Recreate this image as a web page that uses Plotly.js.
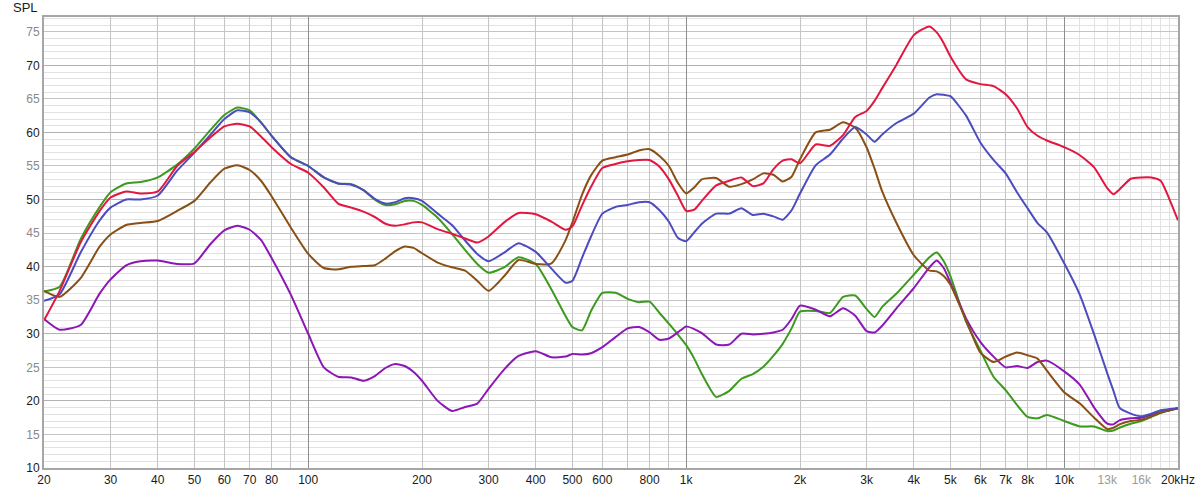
<!DOCTYPE html>
<html>
<head>
<meta charset="utf-8">
<script src="https://cdn.plot.ly/plotly-3.0.1.min.js"></script>
<style>html,body{margin:0;padding:0;background:#fff}#chart{width:1200px;height:492px}</style>
</head>
<body>
<div id="chart"></div>
<script>
// Frequency grid (Hz) at which the curves were read
const freqHz = [20,22,25,28,30,33,36,40,45,50,
  55,60,65,70,75,80,90,100,110,120,
  130,140,150,160,170,180,190,200,220,240,
  260,280,300,330,360,400,440,480,500,530,
  560,600,650,700,750,800,850,900,950,1000,
  1050,1100,1200,1300,1400,1500,1600,1700,1800,1900,
  2000,2200,2400,2600,2800,3000,3150,3300,3600,4000,
  4400,4600,4800,5000,5500,6000,6500,7000,7500,8000,
  8500,9000,10000,11000,12000,13000,13500,14000,15000,16000,
  17000,18000,19000,20000];

const redSPL = [32.0,36.4,43.6,48.2,50.3,51.2,50.9,51.2,55.0,57.1,
  59.2,60.9,61.3,60.9,59.4,57.8,55.3,54.0,51.8,49.4,
  48.8,48.2,47.4,46.4,46.1,46.3,46.6,46.6,45.6,44.9,
  44.2,43.6,44.5,46.6,48.0,47.8,46.7,45.5,46.0,49.1,
  51.9,54.7,55.3,55.7,55.9,55.9,54.9,53.0,50.6,48.3,
  48.5,49.8,52.1,52.8,53.3,52.0,52.4,54.5,55.8,56.0,
  55.4,58.2,58.0,59.6,62.3,63.2,64.7,66.6,70.1,74.5,
  75.8,74.9,73.3,71.3,67.9,67.2,66.9,65.7,63.6,60.8,
  59.5,58.8,57.8,56.6,54.8,51.7,50.8,51.5,53.1,53.3,
  53.3,52.8,50.0,46.9];

const blueSPL = [34.9,35.9,42.1,46.8,48.8,50.0,50.0,50.6,54.3,57.0,
  59.6,62.0,63.3,63.0,61.5,59.5,56.3,55.0,53.3,52.4,
  52.2,51.4,50.1,49.4,49.6,50.2,50.2,49.8,47.9,46.2,
  43.9,41.9,40.8,42.1,43.5,42.2,39.7,37.6,37.9,41.3,
  44.5,47.9,48.9,49.2,49.6,49.6,48.4,46.7,44.3,43.8,
  45.1,46.4,47.9,47.9,48.7,47.7,47.9,47.5,47.0,48.4,
  50.9,55.1,56.7,59.1,60.8,59.7,58.6,59.7,61.4,62.8,
  65.2,65.7,65.6,65.4,62.5,58.5,55.9,53.9,51.1,48.7,
  46.5,45.1,40.5,35.8,29.9,24.1,21.5,19.0,18.1,17.7,
  18.1,18.6,18.8,18.9];

const greenSPL = [36.3,37.0,44.1,48.8,51.1,52.4,52.6,53.3,55.2,57.6,
  60.3,62.6,63.7,63.3,61.5,59.5,56.3,55.0,53.3,52.4,
  52.3,51.4,50.0,49.2,49.3,49.8,49.8,49.2,47.3,44.9,
  42.5,40.4,39.1,39.9,41.4,40.4,36.6,32.6,31.0,30.5,
  33.4,36.1,36.1,35.2,34.7,34.8,33.1,31.5,29.9,28.3,
  26.3,24.0,20.6,21.5,23.3,24.0,25.1,26.7,28.5,30.8,
  33.3,33.4,33.1,35.5,35.7,33.7,32.5,34.0,36.0,38.8,
  41.4,42.1,40.8,38.6,31.8,27.5,23.6,21.6,19.4,17.6,
  17.4,17.9,17.0,16.2,16.2,15.5,15.6,16.0,16.6,17.0,
  17.6,18.2,18.6,18.9];

const brownSPL = [36.4,35.5,38.3,42.9,44.8,46.2,46.5,46.8,48.3,49.8,
  52.5,54.6,55.1,54.4,52.8,50.5,45.8,41.9,39.8,39.6,
  40.0,40.1,40.2,41.2,42.3,43.0,42.8,42.0,40.6,39.9,
  39.4,37.9,36.4,38.6,41.0,40.4,40.5,44.0,46.6,50.7,
  53.6,55.8,56.3,56.7,57.3,57.5,56.5,55.0,52.5,50.9,
  51.8,53.0,53.2,51.9,52.3,53.0,53.9,53.7,52.7,53.4,
  56.0,60.0,60.4,61.5,60.7,57.8,54.6,51.2,46.5,41.7,
  39.4,39.3,38.6,37.3,32.0,27.2,25.8,26.6,27.2,26.8,
  26.3,24.5,21.3,19.6,17.5,15.8,16.0,16.5,17.0,17.2,
  17.7,18.3,18.6,18.9];

const purpleSPL = [32.2,30.6,31.3,35.9,38.1,40.2,40.8,40.9,40.4,40.5,
  43.3,45.4,46.1,45.5,44.0,41.3,35.8,30.0,25.0,23.6,
  23.5,23.0,23.7,24.9,25.5,25.2,24.3,23.0,20.0,18.5,
  19.1,19.6,21.8,24.7,26.7,27.4,26.5,26.6,27.0,26.9,
  27.1,28.0,29.5,30.8,31.0,30.2,29.1,29.3,30.2,31.1,
  30.7,30.1,28.4,28.4,30.0,29.9,30.0,30.2,30.6,32.2,
  34.2,33.6,32.6,33.8,32.7,30.4,30.2,31.2,33.8,36.8,
  39.9,40.9,39.8,37.6,32.3,28.8,26.6,25.0,25.2,24.9,
  25.8,26.0,24.4,22.4,19.0,16.6,16.5,17.1,17.4,17.5,
  17.9,18.3,18.6,18.9];

// Axis ticks and grid levels
const xTickVals = [20,30,40,50,60,70,80,100,200,300,400,500,600,800,1000,2000,3000,4000,5000,6000,7000,8000,10000,13000,16000,20000];
const xTickText = ['20','30','40','50','60','70','80','100','200','300','400','500','600','800','1k','2k','3k','4k','5k','6k','7k','8k','10k','<span style="color:#9a9a9a">13k</span>','<span style="color:#9a9a9a">16k</span>','20kHz'];
const xGridMedium = [30,40,50,60,70,80,90,200,300,400,500,600,700,800,900,2000,3000,4000,5000,6000,7000,8000,9000];
const xGridLight = [11000,12000,13000,14000,15000,16000,17000,18000,19000];
const xGridDark = [100,1000,10000];
const yTickVals = [10,15,20,25,30,35,40,45,50,55,60,65,70,75];
const yTickText = yTickVals.map(v => v % 10 === 0 ? String(v) : '<span style="color:#8a8a8a">' + v + '</span>');
const yGridMinor = [];
for (let v = 11; v <= 77; v++) { if (v % 5 !== 0) yGridMinor.push(v); }
const yGridDark = [10,20,30,40,50,60,70];

const series = [
  {name:'green', y: greenSPL, color:'#3c9a1e'},
  {name:'purple', y: purpleSPL, color:'#8c17b5'},
  {name:'brown', y: brownSPL, color:'#8a4f15'},
  {name:'blue', y: blueSPL, color:'#4c4cbf'},
  {name:'red', y: redSPL, color:'#e2173f'}
];

const xRange = [Math.log10(20), Math.log10(20000)];
const yRange = [10, 77.2];

const traces = [
  {type:'scatter', x:[], y:[], xaxis:'x2', yaxis:'y', showlegend:false, hoverinfo:'skip'},
  {type:'scatter', x:[], y:[], xaxis:'x3', yaxis:'y', showlegend:false, hoverinfo:'skip'},
  {type:'scatter', x:[], y:[], xaxis:'x', yaxis:'y2', showlegend:false, hoverinfo:'skip'}
];
series.forEach(s => traces.push({
  type:'scatter', mode:'lines', name:s.name, x:freqHz, y:s.y,
  line:{color:s.color, width:2, shape:'spline', smoothing:0.55},
  xaxis:'x', yaxis:'y', hoverinfo:'x+y'
}));

const fontFam = 'Liberation Sans, Arial, sans-serif';
const layout = {
  width:1200, height:492,
  margin:{l:44, r:22, t:17, b:24, pad:0},
  paper_bgcolor:'#ffffff', plot_bgcolor:'#ffffff',
  showlegend:false,
  font:{family:fontFam, size:12, color:'#1a1a1a'},
  xaxis:{type:'log', range:xRange, tickmode:'array', tickvals:xTickVals, ticktext:xTickText,
    showgrid:false, zeroline:false, ticks:'', showline:true, mirror:true, linecolor:'#a6a6a6', linewidth:2,
    tickfont:{family:fontFam, size:12, color:'#1a1a1a'}, fixedrange:true},
  xaxis2:{type:'log', range:xRange, overlaying:'x', anchor:'y', side:'bottom',
    tickmode:'array', tickvals:xGridMedium, showticklabels:false, ticks:'',
    showgrid:true, gridcolor:'#c4c4c4', gridwidth:1, zeroline:false, showline:false,
    minor:{tickmode:'array', tickvals:xGridLight, showgrid:true, gridcolor:'#e2e2e2', gridwidth:1, ticks:''}},
  xaxis3:{type:'log', range:xRange, overlaying:'x', anchor:'y', side:'bottom',
    tickmode:'array', tickvals:xGridDark, showticklabels:false, ticks:'',
    showgrid:true, gridcolor:'#8e8e8e', gridwidth:1, zeroline:false, showline:false},
  yaxis:{range:yRange, tickmode:'array', tickvals:yTickVals, ticktext:yTickText,
    showgrid:true, gridcolor:'#c4c4c4', gridwidth:1, zeroline:false, ticks:'',
    showline:true, mirror:true, linecolor:'#a6a6a6', linewidth:2,
    tickfont:{family:fontFam, size:12, color:'#1a1a1a'},
    minor:{tickmode:'array', tickvals:yGridMinor, showgrid:true, gridcolor:'#e2e2e2', gridwidth:1, ticks:''}},
  yaxis2:{range:yRange, overlaying:'y', anchor:'x', side:'left',
    tickmode:'array', tickvals:yGridDark, showticklabels:false, ticks:'',
    showgrid:true, gridcolor:'#b2b2b2', gridwidth:1, zeroline:false, showline:false},
  annotations:[{xref:'paper', yref:'paper', x:0, y:1, xanchor:'right', yanchor:'bottom',
    xshift:-4, yshift:0, text:'SPL', showarrow:false, font:{family:fontFam, size:13, color:'#1a1a1a'}}]
};

Plotly.newPlot('chart', traces, layout, {staticPlot:true, displayModeBar:false});
</script>
</body>
</html>
